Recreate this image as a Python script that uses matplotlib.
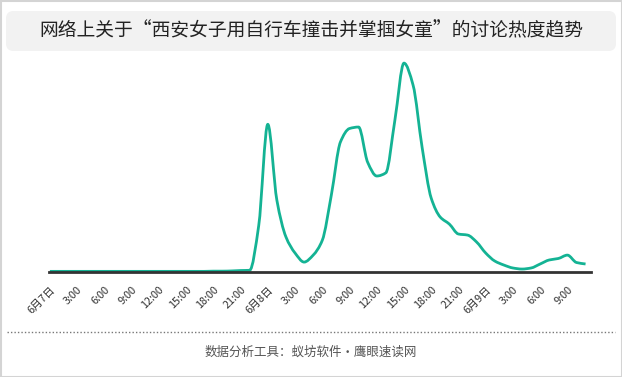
import matplotlib
matplotlib.use("Agg")
import numpy as np
import matplotlib.pyplot as plt
from matplotlib.patches import FancyBboxPatch, Rectangle, PathPatch
from matplotlib.lines import Line2D
from matplotlib.path import Path

plt.rcParams['font.family'] = ['Noto Sans CJK SC', 'DejaVu Sans']

title = "网络上关于“西安女子用自行车撞击并掌掴女童”的讨论热度趋势"
footer = "数据分析工具：蚁坊软件·鹰眼速读网"

# hours since 6月7日 0:00, hourly heat values (relative)
hours = list(range(60))
heat = [0.3, 0.3, 0.3, 0.3, 0.3, 0.3, 0.3, 0.3, 0.3, 0.3,
        0.3, 0.3, 0.3, 0.3, 0.3, 0.3, 0.3, 0.3, 0.4, 0.4,
        0.5, 0.7, 0.8, 22, 70, 34, 16.6, 9, 4.7, 8,
        15, 36.5, 61.6, 68, 68.7, 52, 45.5, 47, 72, 99,
        88.6, 59, 35, 26, 22.7, 18, 17.5, 14.2, 9, 5.2,
        3.3, 1.9, 1.4, 1.9, 3.8, 5.7, 6.4, 8, 4.5, 3.8]

tick_pos = list(range(0, 60, 3))
tick_labels = ["6月7日", "3:00", "6:00", "9:00", "12:00", "15:00", "18:00", "21:00",
               "6月8日", "3:00", "6:00", "9:00", "12:00", "15:00", "18:00", "21:00",
               "6月9日", "3:00", "6:00", "9:00"]


def smooth_path(x, y):
    # monotone cubic (Fritsch-Carlson) drawn as bezier segments
    x = np.asarray(x, float)
    y = np.asarray(y, float)
    d = np.diff(y) / np.diff(x)
    m = np.zeros_like(y)
    m[0], m[-1] = d[0], d[-1]
    for i in range(1, len(y) - 1):
        if d[i - 1] * d[i] <= 0:
            m[i] = 0
        else:
            m[i] = 2 / (1 / d[i - 1] + 1 / d[i])
    verts = [(x[0], y[0])]
    codes = [Path.MOVETO]
    for i in range(len(x) - 1):
        h = x[i + 1] - x[i]
        verts += [(x[i] + h / 3, y[i] + m[i] * h / 3),
                  (x[i + 1] - h / 3, y[i + 1] - m[i + 1] * h / 3),
                  (x[i + 1], y[i + 1])]
        codes += [Path.CURVE4] * 3
    return Path(verts, codes)


W, H = 622, 377
fig = plt.figure(figsize=(W / 100, H / 100), dpi=100)
fig.patch.set_facecolor('white')

# outer border
fig.patches.append(Rectangle((0.5 / W, 0.5 / H), 1 - 1 / W, 1 - 1 / H, transform=fig.transFigure,
                             fill=False, edgecolor='#d4d4d4', linewidth=1.5))

# title box
bx0, bx1, by0, by1 = 6, 616, 11, 51
fig.patches.append(FancyBboxPatch((bx0 / W, 1 - by1 / H), (bx1 - bx0) / W, (by1 - by0) / H,
                                  boxstyle="round,pad=0,rounding_size=0.012",
                                  transform=fig.transFigure, facecolor='#f2f2f2',
                                  edgecolor='none', mutation_aspect=W / H))
fig.text(311 / W, 1 - 31 / H, title, ha='center', va='center', fontsize=13.5, color='#222222')

# chart
ax_l, ax_r, ax_b, ax_t = 49, 591, 272, 51
ax = fig.add_axes([ax_l / W, 1 - ax_b / H, (ax_r - ax_l) / W, (ax_b - ax_t) / H])
ax.add_patch(PathPatch(smooth_path(hours, heat), facecolor='none', edgecolor='#14b394',
                       linewidth=2.0, joinstyle='round', clip_on=False))
ax.set_xlim(-0.1, 59.6)
ax.set_ylim(0, 100 * 221 / 211)
for s in ['top', 'right', 'left']:
    ax.spines[s].set_visible(False)
ax.spines['bottom'].set_color('#333333')
ax.spines['bottom'].set_linewidth(2)
ax.spines['bottom'].set_zorder(3)
ax.set_yticks([])
ax.set_xticks(tick_pos)
ax.set_xticklabels(tick_labels, rotation=45, ha='right', va='top', rotation_mode='anchor',
                   fontsize=7.8, color='#333333')
ax.tick_params(axis='x', length=0, pad=9)

# separator and footer
fig.lines.append(Line2D([7 / W, 615 / W], [1 - 332 / H, 1 - 332 / H], transform=fig.transFigure,
                        color='#777777', linewidth=1, linestyle=(0, (1, 1.5))))
fig.text(311 / W, 1 - 352 / H, footer, ha='center', va='center', fontsize=9, color='#555555')

fig.savefig('out.png', dpi=100)
